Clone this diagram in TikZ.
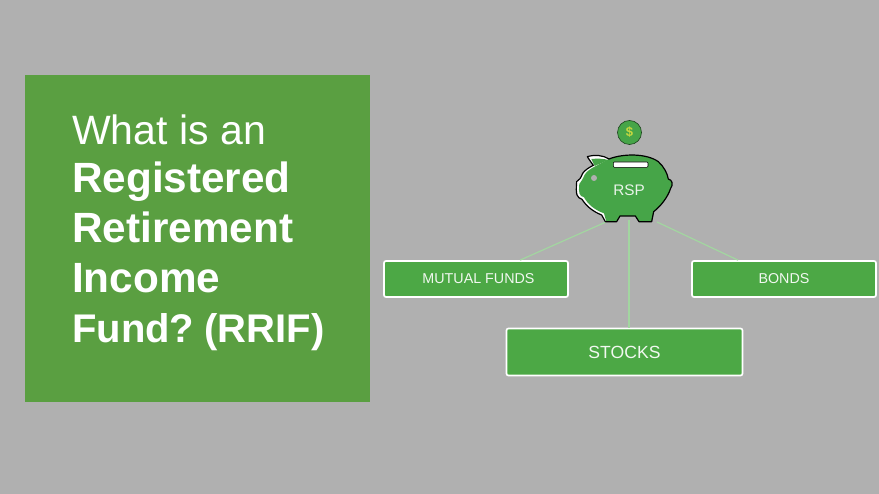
\documentclass[tikz,border=0pt]{standalone}
\usepackage{fontspec}
\setmainfont{Liberation Sans}
\definecolor{bggray}{HTML}{B0B0B0}
\definecolor{panelgreen}{HTML}{5A9F41}
\definecolor{boxgreen}{HTML}{4CA845}
\definecolor{piggreen}{HTML}{46A548}
\definecolor{coingold}{HTML}{C8D840}
\definecolor{linkgreen}{HTML}{A2D6A0}
\tikzset{
  titleline/.style={anchor=base west, inner sep=0pt, text=white, font=\fontsize{41}{41}\selectfont},
  titlebold/.style={titleline, font=\fontsize{42.3}{42}\selectfont\bfseries},
  fundbox/.style={draw=white, line width=1.7pt, rounded corners=2pt, fill=boxgreen, text=white!92!boxgreen, inner sep=0pt, font=\fontsize{14.3}{14.3}\selectfont},
  link/.style={draw=linkgreen, line width=1.2pt},
}
\begin{document}
\begin{tikzpicture}[x=1pt, y=-1pt]
  \useasboundingbox (0,0) rectangle (879,494);
  \fill[bggray] (0,0) rectangle (879,494);

  % Title panel
  \node[fill=panelgreen, minimum width=345pt, minimum height=327pt, inner sep=0pt] at (197.5,238.5) (panel) {};
  \node[titleline] at (72,145) (what) {What is an};
  \node[titlebold] at (72,193) (registered) {Registered};
  \node[titlebold] at (72,243) (retirement) {Retirement};
  \node[titlebold] at (72,293) (income) {Income};
  \node[titlebold, font=\fontsize{40}{40}\selectfont\bfseries] at (72,343) (fund) {Fund?\hspace{10pt}(RRIF)};

  % Links
  \coordinate (pigleft) at (606,222);
  \coordinate (pigmid) at (629,220);
  \coordinate (pigright) at (657,222);

  % Boxes
  \node[fundbox, minimum width=184pt, minimum height=36pt] at (476,279) (funds) {\hspace{5pt}MUTUAL FUNDS};
  \node[fundbox, minimum width=184pt, minimum height=36pt] at (784,279) (bonds) {BONDS};
  \node[fundbox, minimum width=236pt, minimum height=47pt, font=\fontsize{17.6}{17.6}\selectfont] at (624.5,352) (stocks) {STOCKS};

  \draw[link] (pigleft) -- ([xshift=44pt]funds.north);
  \draw[link] (pigmid) -- ([xshift=4.5pt]stocks.north);
  \draw[link] (pigright) -- ([xshift=-46pt]bonds.north);

  % Piggy bank
  \begin{scope}[shift={(560,110)}, x=0.3333pt, y=-0.3333pt]
    \fill[white]
      (100,166) .. controls (92,155) and (86,147) .. (82,140)
      .. controls (105,133) and (130,136) .. (147,147)
      .. controls (190,130) and (260,130) .. (295,155)
      .. controls (312,170) and (322,190) .. (325,207)
      .. controls (338,210) and (340,225) .. (332,235)
      .. controls (322,265) and (300,290) .. (281,305)
      -- (275,335) -- (237,335) -- (226,318) -- (180,318) -- (170,335) -- (136,335)
      -- (125,315)
      .. controls (100,305) and (80,290) .. (66,268)
      .. controls (50,262) and (47,255) .. (50,215)
      .. controls (58,210) and (62,205) .. (68,190)
      .. controls (75,180) and (88,172) .. (100,166) -- cycle;
    % body, white left over on the lower left
    \fill[piggreen] (104,170) -- (147,147)
      .. controls (190,130) and (260,130) .. (295,155)
      .. controls (312,170) and (322,190) .. (325,207)
      .. controls (338,210) and (340,225) .. (332,235)
      .. controls (322,265) and (300,290) .. (281,305)
      -- (275,335) -- (237,335) -- (226,318) -- (180,318) -- (170,335) -- (139,335)
      -- (132,310)
      .. controls (105,300) and (85,285) .. (72,262)
      .. controls (58,258) and (55,250) .. (58,222)
      .. controls (64,214) and (68,208) .. (74,194)
      .. controls (80,184) and (92,176) .. (104,170) -- cycle;
    % ear
    \fill[piggreen] (104,168) .. controls (100,160) and (97,154) .. (94,147)
      .. controls (112,145) and (130,146) .. (145,150) -- cycle;
    \draw[black, line width=1.2pt, line join=round]
      (100,166) .. controls (92,155) and (86,147) .. (82,140)
      .. controls (105,133) and (130,136) .. (147,147)
      .. controls (190,130) and (260,130) .. (295,155)
      .. controls (312,170) and (322,190) .. (325,207)
      .. controls (338,210) and (340,225) .. (332,235)
      .. controls (322,265) and (300,290) .. (281,305)
      -- (275,335) -- (237,335) -- (226,318) -- (180,318) -- (170,335) -- (136,335)
      -- (125,315)
      .. controls (100,305) and (80,290) .. (66,268)
      .. controls (50,262) and (47,255) .. (50,215)
      .. controls (58,210) and (62,205) .. (68,190)
      .. controls (75,180) and (88,172) .. (100,166) -- cycle;
    \draw[fill=white, draw=black, line width=0.6pt, rounded corners=1pt] (160,156) rectangle (264,172);
    \fill[bggray] (102,204) circle (9);
  \end{scope}
  \node[text=white!88!piggreen, inner sep=0pt, font=\fontsize{15.3}{15.3}\selectfont] at (629,190) (rsp) {RSP};

  % Coin
  \node[circle, draw=black!60!piggreen, fill=piggreen, line width=0.6pt, minimum size=24pt, inner sep=0pt, text=coingold, font=\fontsize{13}{13}\selectfont\bfseries] at (629.5,132.5) (coin) {\$};
\end{tikzpicture}
\end{document}
